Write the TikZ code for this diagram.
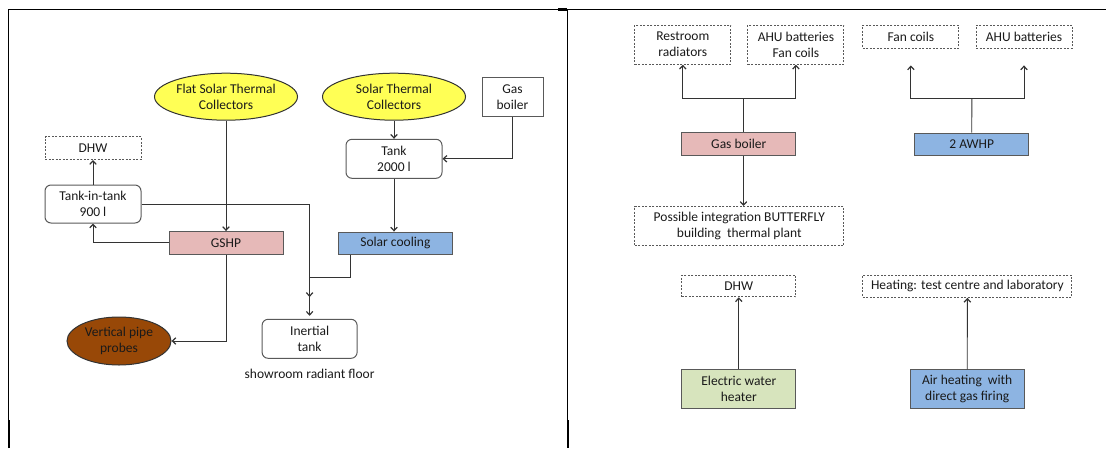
\documentclass[tikz,border=0pt]{standalone}
\usepackage{fontspec}
\setmainfont{Carlito}
\usetikzlibrary{shapes.geometric,arrows.meta}
\definecolor{ylw}{HTML}{FFFF55}
\definecolor{pnk}{HTML}{E6B9B8}
\definecolor{blu}{HTML}{8DB4E2}
\definecolor{grn}{HTML}{D7E4BD}
\definecolor{brn}{HTML}{984807}
\definecolor{bord}{HTML}{595959}
\definecolor{lin}{HTML}{333333}
\definecolor{txt}{HTML}{1A1A1A}
\tikzset{
  base/.style={draw=bord,line width=1pt,align=center,inner sep=0pt,text=txt,
    font=\fontsize{13.5}{16}\selectfont},
  plainbox/.style={base,rectangle},
  roundbox/.style={base,rectangle,rounded corners=6pt},
  dashbox/.style={base,rectangle,dash pattern=on 2pt off 1.5pt,draw=bord},
  ell/.style={base,ellipse,draw=lin},
  arr/.style={draw=lin,line width=0.9pt,-{Straight Barb[length=3.5pt,width=6.5pt,line width=1.2pt]}},
  ln/.style={draw=lin,line width=0.9pt},
  frame/.style={draw=black,line width=1.3pt},
  thickframe/.style={draw=black,line width=2.6pt},
}
\begin{document}
\begin{tikzpicture}[x=1pt,y=-1pt]
\useasboundingbox (0,0) rectangle (1106,448);
% frame
\draw[frame] (8.3,448) -- (8.3,9.7) -- (1106,9.7);
\draw[frame] (567.5,9.7) -- (567.5,448);
\draw[thickframe] (9,420) -- (9,448);
\draw[thickframe] (568,420) -- (568,448);
\draw[thickframe] (558,9.7) -- (567,9.7);

% left panel
\node[ell,fill=ylw,minimum width=143,minimum height=47] (flat) at (226,96.7) {Flat Solar Thermal\\Collectors};
\node[ell,fill=ylw,minimum width=143,minimum height=47] (stc) at (394,96.7) {Solar Thermal\\Collectors};
\node[plainbox,minimum width=61,minimum height=39] (gb) at (512.5,96.7) {Gas\\boiler};
\node[dashbox,minimum width=96,minimum height=23] (dhw) at (93,148) {DHW};
\node[roundbox,minimum width=96,minimum height=38] (tit) at (93,204) {Tank-in-tank\\900 l};
\node[roundbox,minimum width=96,minimum height=39] (tank) at (394,158.8) {Tank\\2000 l};
\node[plainbox,fill=pnk,minimum width=114,minimum height=22.5] (gshp) at (226,242.8) {GSHP};
\node[plainbox,fill=blu,minimum width=114,minimum height=22.5] (sc) at (395.4,243.3) {Solar cooling};
\node[ell,fill=brn,minimum width=104,minimum height=48] (probes) at (119,341) {Vertical pipe\\probes};
\node[roundbox,minimum width=95,minimum height=39] (it) at (309.6,338.8) {Inertial\\tank};
\node[font=\fontsize{13.5}{16}\selectfont,text=txt,inner sep=0pt] (srf) at (309.6,374) {showroom radiant floor};

\coordinate (scb) at (350,254.5);
\coordinate (jn) at (309.6,277.3);
\coordinate (ah) at (309.6,297);

\draw[arr] (flat.south) -- (gshp.north);
\draw[arr] (stc.south) -- (tank.north);
\draw[arr] (gb.south) |- (tank.east);
\draw[arr] (tank.south) -- (tank.south |- sc.north);
\draw[arr] (tit.north) -- (dhw.south);
\draw[arr] (gshp.west) -| (tit.south);
\draw[arr] (gshp.south) |- (probes.east);
\draw[arr] (tit.east) -| (ah);
\draw[arr] (scb) |- (jn) -- ([yshift=3]it.north);

% right panel
\node[dashbox,minimum width=96,minimum height=39] (rr) at (682.8,44.7) {Restroom\\radiators};
\node[dashbox,minimum width=96,minimum height=39] (ahu1) at (795.9,44.7) {AHU batteries\\Fan coils};
\node[dashbox,minimum width=96,minimum height=23] (fc) at (910.9,36.7) {Fan coils};
\node[dashbox,minimum width=96,minimum height=23] (ahu2) at (1024,36.7) {AHU batteries};
\node[plainbox,fill=pnk,minimum width=114,minimum height=22.5] (gb2) at (738.8,143.8) {Gas boiler};
\node[plainbox,fill=blu,minimum width=114,minimum height=22.5] (awhp) at (971.7,144.3) {2 AWHP};
\node[dashbox,minimum width=209,minimum height=39] (pi) at (739.3,226) {Possible integration BUTTERFLY\\building~~thermal plant};
\node[dashbox,minimum width=114,minimum height=21.5] (dhw2) at (738.8,286) {DHW};
\node[dashbox,minimum width=209,minimum height=22] (heat) at (967.4,286.3) {Heating: test centre and laboratory};
\node[plainbox,fill=grn,minimum width=114,minimum height=39] (ewh) at (738.8,389) {Electric water\\heater};
\node[plainbox,fill=blu,minimum width=114,minimum height=39] (air) at (967.2,389.3) {Air heating~~with\\direct gas firing};

\coordinate (gj) at (743.5,98.3);
\coordinate (aj) at (971.9,98.3);
\draw[ln] ([xshift=4.7]gb2.north) -- (gj);
\draw[arr] (gj) -| (rr.south);
\draw[arr] (gj) -| (ahu1.south);
\draw[arr] ([xshift=4.7]gb2.south) -- ([xshift=4.7]gb2.south |- pi.north);
\draw[ln] (awhp.north) -- (aj);
\draw[arr] (aj) -| ([yshift=-16.7]fc.south);
\draw[arr] (aj) -| ([yshift=-16.7]ahu2.south);
\draw[arr] (ewh.north) -- (dhw2.south);
\draw[arr] (air.north) -- (heat.south);
\end{tikzpicture}
\end{document}
